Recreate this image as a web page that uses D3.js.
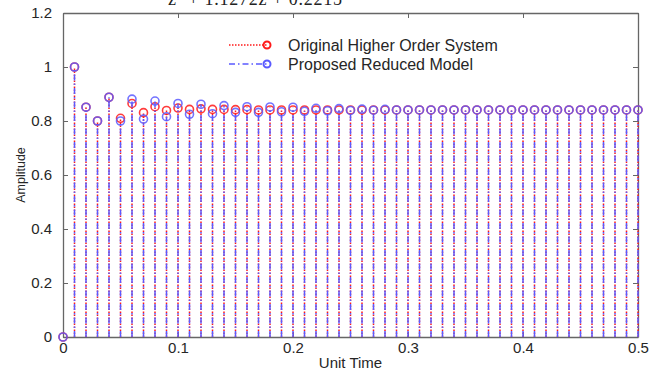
<!DOCTYPE html>
<html>
<head>
<meta charset="utf-8">
<script src="https://cdn.jsdelivr.net/npm/d3@7"></script>
<style>
  html, body { margin: 0; padding: 0; background: #fff; }
  svg { display: block; }
  text { font-family: "Liberation Sans", Arial, sans-serif; }
</style>
</head>
<body>
<svg id="chart" width="660" height="371"></svg>
<script>
// Sample instants (unit time)
const times = d3.range(0, 51).map(i => +(i * 0.01).toFixed(2));

// Step response of the original higher order system
const originalHead = [0, 1.0, 0.851, 0.800, 0.888, 0.810, 0.865, 0.831, 0.853, 0.839,
  0.848, 0.843, 0.845, 0.843, 0.843, 0.842, 0.842, 0.841];
const originalSystem = times.map((t, i) => i < originalHead.length ? originalHead[i] : 0.841);

// Step response of the proposed reduced model
const reducedHead = [0, 1.0, 0.851, 0.800, 0.888, 0.800, 0.881, 0.807, 0.874, 0.816,
  0.865, 0.825, 0.862, 0.827, 0.857, 0.832, 0.853, 0.832, 0.852, 0.834,
  0.851, 0.836, 0.847, 0.838, 0.846, 0.839, 0.844, 0.840, 0.843, 0.841];
const reducedModel = times.map((t, i) => i < reducedHead.length ? reducedHead[i] : 0.841);

const xTicks = [0, 0.1, 0.2, 0.3, 0.4, 0.5];
const yTicks = [0, 0.2, 0.4, 0.6, 0.8, 1, 1.2];

const legendLabels = ["Original Higher Order System", "Proposed Reduced Model"];

const svg = d3.select("#chart");
const margin = { left: 63, right: 22, top: 13, bottom: 34 };
const W = 660, H = 371;
const x = d3.scaleLinear().domain([0, 0.5]).range([margin.left, W - margin.right]);
const y = d3.scaleLinear().domain([0, 1.2]).range([H - margin.bottom, margin.top]);

const axisColor = "#666";
const textColor = "#262626";

// Transfer function denominator, partially above the frame
svg.append("text")
  .attr("x", 168).attr("y", 5)
  .attr("textLength", 174)
  .style("font-family", "'Liberation Serif', 'DejaVu Serif', serif")
  .style("font-size", "18px")
  .attr("fill", "#222")
  .text("z\u00B2 + 1.1272z + 0.2215");

// Axes (bottom/left labelled, top/right mirrored ticks)
const tickLen = 5;
const axBottom = svg.append("g").attr("transform", `translate(0,${y(0)})`)
  .call(d3.axisBottom(x).tickValues(xTicks).tickSizeInner(-tickLen).tickSizeOuter(0).tickPadding(5)
    .tickFormat(d => d === 0 ? "0" : d3.format(".1f")(d)));
const axLeft = svg.append("g").attr("transform", `translate(${x(0)},0)`)
  .call(d3.axisLeft(y).tickValues(yTicks).tickSizeInner(-tickLen).tickSizeOuter(0).tickPadding(11)
    .tickFormat(d => d === 0 || d === 1 ? String(d) : d3.format(".1f")(d)));
const axTop = svg.append("g").attr("transform", `translate(0,${y(1.2)})`)
  .call(d3.axisTop(x).tickValues(xTicks).tickSizeInner(-tickLen).tickSizeOuter(0).tickFormat(""));
const axRight = svg.append("g").attr("transform", `translate(${x(0.5)},0)`)
  .call(d3.axisRight(y).tickValues(yTicks).tickSizeInner(-tickLen).tickSizeOuter(0).tickFormat(""));

[axBottom, axLeft, axTop, axRight].forEach(g => {
  g.select(".domain").attr("stroke", axisColor).attr("stroke-width", 1.3);
  g.selectAll(".tick line").attr("stroke", axisColor);
  g.selectAll(".tick text").attr("fill", textColor).style("font-size", "15px");
});

// Axis titles
svg.append("text")
  .attr("x", x(0.25)).attr("y", 368)
  .attr("text-anchor", "middle")
  .attr("fill", textColor).style("font-size", "15px")
  .text("Unit Time");
svg.append("text")
  .attr("transform", `translate(25,${y(0.6)}) rotate(-90)`)
  .attr("text-anchor", "middle")
  .attr("fill", textColor).style("font-size", "12.5px")
  .text("Amplitude");

const red = "#ff1a1a";
const blue = "#5a5aff";

function drawStems(values, color, dash, cls) {
  const g = svg.append("g").attr("class", cls);
  g.selectAll("line").data(values).join("line")
    .attr("x1", (d, i) => x(times[i])).attr("x2", (d, i) => x(times[i]))
    .attr("y1", y(0)).attr("y2", d => y(d))
    .attr("stroke", color).attr("stroke-width", 1.5)
    .attr("stroke-dasharray", dash);
  g.selectAll("circle").data(values).join("circle")
    .attr("cx", (d, i) => x(times[i])).attr("cy", d => y(d))
    .attr("r", 4)
    .attr("fill", "none").attr("stroke", color).attr("stroke-width", 1.6)
    .attr("stroke-opacity", 0.85);
}

drawStems(originalSystem, red, "1.5,1.5", "original");
drawStems(reducedModel, blue, "6,3,1.5,3", "reduced");

// Legend
const legend = svg.append("g");
const legendItems = [
  { label: legendLabels[0], color: red, dash: "1.5,1.5", y: 45 },
  { label: legendLabels[1], color: blue, dash: "6,3,1.5,3", y: 64 }
];
legendItems.forEach(it => {
  legend.append("line")
    .attr("x1", 229).attr("x2", 267).attr("y1", it.y).attr("y2", it.y)
    .attr("stroke", it.color).attr("stroke-width", 1.5).attr("stroke-dasharray", it.dash);
  legend.append("circle")
    .attr("cx", 267).attr("cy", it.y).attr("r", 3.5)
    .attr("fill", "none").attr("stroke", it.color).attr("stroke-width", 2);
  legend.append("text")
    .attr("x", 288).attr("y", it.y).attr("dy", "0.35em")
    .attr("fill", textColor).style("font-size", "16px")
    .text(it.label);
});
</script>
</body>
</html>
